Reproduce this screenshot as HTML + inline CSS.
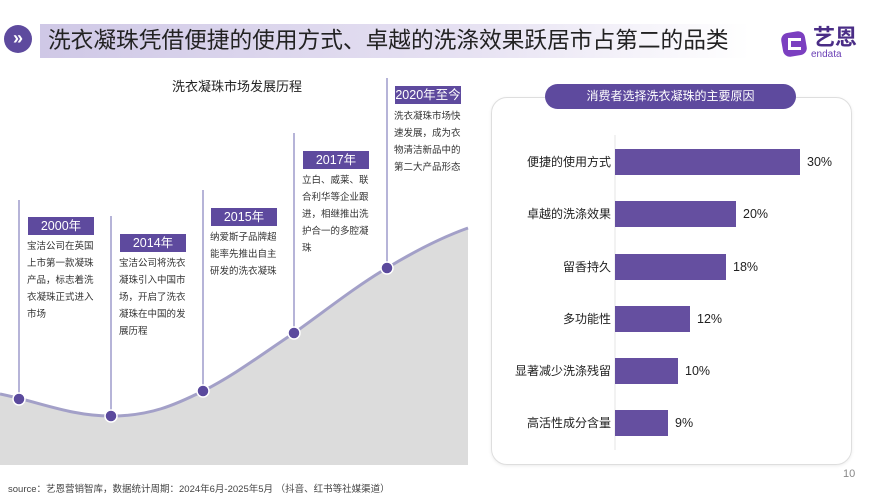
<!DOCTYPE html>
<html><head><meta charset="utf-8"><style>
*{margin:0;padding:0;box-sizing:border-box}
body{width:889px;height:500px;background:#fff;position:relative;overflow:hidden;font-family:"Liberation Sans","Noto Sans CJK SC",sans-serif;color:#222}
.a{position:absolute}
.yr{position:absolute;width:66px;height:18px;background:#5e4a9e;color:#fff;font-size:12.5px;line-height:18px;text-align:center}
.tx{position:absolute;font-size:9.5px;line-height:17px;color:#333;width:72px}
.lab{position:absolute;right:278px;font-size:12px;color:#222;text-align:right;width:130px}
.bar{position:absolute;left:615px;height:26px;background:#654fa0}
.pct{position:absolute;font-size:12.5px;color:#222}
</style></head><body>
<div class="a" style="left:40px;top:24px;width:710px;height:34px;background:linear-gradient(90deg,#cfc8e6 0%,#e6e1f2 60%,#fff 100%)"></div>
<div class="a" style="left:4px;top:25px;width:28px;height:28px;border-radius:50%;background:#5e4a9e;color:#fff;font-size:18px;line-height:27px;text-align:center;font-weight:bold">»</div>
<div class="a" style="left:48px;top:26px;font-size:22.7px;line-height:28px;color:#222;white-space:nowrap">洗衣凝珠凭借便捷的使用方式、卓越的洗涤效果跃居市占第二的品类</div>
<div class="a" style="left:782px;top:32px;width:24px;height:24px;border-radius:7px;background:#7b3fc0;transform:rotate(-10deg)"></div>
<div class="a" style="left:788px;top:38px;width:13px;height:12px;border:3px solid #fff;border-right:none"></div>
<div class="a" style="left:813px;top:25px;font-size:22px;font-weight:bold;color:#4a2d86;line-height:26px">艺恩</div>
<div class="a" style="left:811px;top:50px;font-size:10px;color:#6a3fb5;line-height:10px">endata</div>

<div class="a" style="left:172px;top:76px;font-size:13px;color:#222">洗衣凝珠市场发展历程</div>

<svg class="a" style="left:0;top:0" width="889" height="500">
<path d="M0,394 C40,402 70,416 111,416 C150,416 175,405 203,391 C235,375 265,352 294,333 C325,311 355,287 387,268 C415,251 440,238 468,228 L468,465 L0,465 Z" fill="#dcdcdc"/>
<path d="M0,394 C40,402 70,416 111,416 C150,416 175,405 203,391 C235,375 265,352 294,333 C325,311 355,287 387,268 C415,251 440,238 468,228" fill="none" stroke="#a3a0c8" stroke-width="3"/>
<g stroke="#8f8cc4" stroke-width="1.3">
<line x1="19" y1="200" x2="19" y2="399"/>
<line x1="111" y1="216" x2="111" y2="416"/>
<line x1="203" y1="190" x2="203" y2="391"/>
<line x1="294" y1="133" x2="294" y2="333"/>
<line x1="387" y1="78" x2="387" y2="268"/>
</g>
<g fill="#5b4a9d" stroke="#fff" stroke-width="1.5">
<circle cx="19" cy="399" r="6"/><circle cx="111" cy="416" r="6"/><circle cx="203" cy="391" r="6"/><circle cx="294" cy="333" r="6"/><circle cx="387" cy="268" r="6"/>
</g>
<line x1="615" y1="135" x2="615" y2="450" stroke="#e4e4e4" stroke-width="1"/>
</svg>

<div class="yr" style="left:28px;top:217px">2000年</div>
<div class="tx" style="left:27px;top:238px">宝洁公司在英国上市第一款凝珠产品，标志着洗衣凝珠正式进入市场</div>
<div class="yr" style="left:120px;top:234px">2014年</div>
<div class="tx" style="left:119px;top:255px">宝洁公司将洗衣凝珠引入中国市场，开启了洗衣凝珠在中国的发展历程</div>
<div class="yr" style="left:211px;top:208px">2015年</div>
<div class="tx" style="left:210px;top:229px">纳爱斯子品牌超能率先推出自主研发的洗衣凝珠</div>
<div class="yr" style="left:303px;top:151px">2017年</div>
<div class="tx" style="left:302px;top:172px">立白、威莱、联合利华等企业跟进，相继推出洗护合一的多腔凝珠</div>
<div class="yr" style="left:395px;top:86px">2020年至今</div>
<div class="tx" style="left:394px;top:108px">洗衣凝珠市场快速发展，成为衣物清洁新品中的第二大产品形态</div>

<div class="a" style="left:491px;top:97px;width:361px;height:368px;border:1px solid #dedede;border-radius:16px;box-shadow:0 1px 3px rgba(0,0,0,.08)"></div>
<div class="a" style="left:545px;top:84px;width:251px;height:25px;border-radius:13px;background:#5e4a9e;color:#fff;font-size:12px;line-height:25px;text-align:center">消费者选择洗衣凝珠的主要原因</div>

<div class="lab" style="top:153px">便捷的使用方式</div><div class="bar" style="top:149px;width:185px"></div><div class="pct" style="left:807px;top:155px">30%</div>
<div class="lab" style="top:205px">卓越的洗涤效果</div><div class="bar" style="top:201px;width:121px"></div><div class="pct" style="left:743px;top:207px">20%</div>
<div class="lab" style="top:258px">留香持久</div><div class="bar" style="top:254px;width:111px"></div><div class="pct" style="left:733px;top:260px">18%</div>
<div class="lab" style="top:310px">多功能性</div><div class="bar" style="top:306px;width:75px"></div><div class="pct" style="left:697px;top:312px">12%</div>
<div class="lab" style="top:362px">显著减少洗涤残留</div><div class="bar" style="top:358px;width:63px"></div><div class="pct" style="left:685px;top:364px">10%</div>
<div class="lab" style="top:414px">高活性成分含量</div><div class="bar" style="top:410px;width:53px"></div><div class="pct" style="left:675px;top:416px">9%</div>

<div class="a" style="left:843px;top:468px;font-size:11px;color:#888">10</div>
<div class="a" style="left:8px;top:481px;font-size:9.5px;color:#444;white-space:nowrap">source：艺恩营销智库，数据统计周期：2024年6月-2025年5月 （抖音、红书等社媒渠道）</div>
</body></html>
